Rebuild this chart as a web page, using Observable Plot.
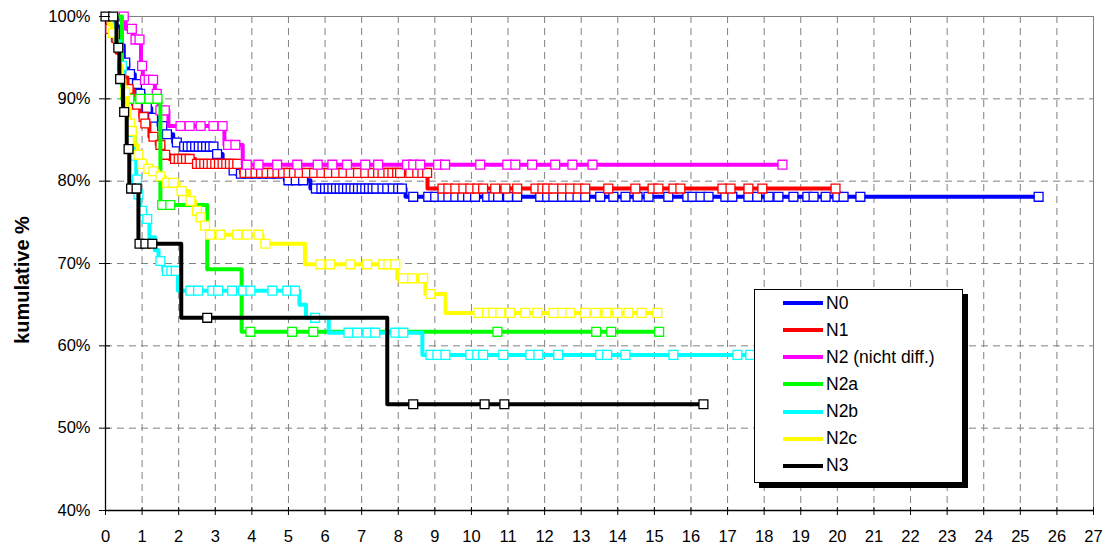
<!DOCTYPE html>
<html><head><meta charset="utf-8">
<script src="https://cdn.jsdelivr.net/npm/d3@7"></script>
<script src="https://cdn.jsdelivr.net/npm/@observablehq/plot@0.6"></script>
<style>
body{margin:0;background:#fff;font-family:"Liberation Sans",Arial,sans-serif;}
#wrap{position:relative;width:1109px;height:550px;}
#ylabel{position:absolute;left:22px;top:280px;transform:translate(-50%,-50%) rotate(-90deg);font-weight:bold;font-size:20px;white-space:nowrap;color:#000;}
#legend{position:absolute;left:754px;top:289px;width:207px;height:192px;border:1px solid #000;background:#fff;box-shadow:5px 5px 0 #000;}
.item{position:absolute;left:28px;height:20px;display:flex;align-items:center;font-size:17.5px;color:#000;}
.swatch{width:40px;height:4px;margin-right:3px;}
</style></head>
<body><div id="wrap"></div>
<script>
// ---- data ----
const seriesNames = ["N0", "N1", "N2 (nicht diff.)", "N2a", "N2b", "N2c", "N3"];
const xTicks = [0,1,2,3,4,5,6,7,8,9,10,11,12,13,14,15,16,17,18,19,20,21,22,23,24,25,26,27];
const yTicks = [40, 50, 60, 70, 80, 90, 100];

const n0Times = [0, 0.3, 0.42, 0.5, 0.62, 0.8, 0.92, 1.05, 1.25, 1.45, 1.62, 1.85, 2.05, 3.0, 3.2, 3.45, 3.58, 4.9, 5.6, 8.2];
const n0Surv  = [100, 98.8, 96.5, 94.4, 93.0, 91.8, 90.6, 88.9, 87.7, 86.7, 85.7, 84.7, 84.2, 83.3, 82.1, 81.3, 80.9, 80.1, 79.1, 78.1];
const n0End = 25.5;
const n0Censored = [0.54, 0.67, 0.86, 0.95, 1.13, 1.3, 1.55, 1.68, 1.95, 2.15, 2.25, 2.35, 2.45, 2.55, 2.65, 2.75, 2.85, 2.95, 3.05, 3.3, 3.5, 3.7, 3.9, 4.1, 4.3, 4.5, 4.7, 5.0, 5.2, 5.4, 5.75, 5.9, 6.0, 6.1, 6.2, 6.3, 6.4, 6.5, 6.6, 6.7, 6.8, 6.9, 7.0, 7.1, 7.2, 7.3, 7.4, 7.57, 7.7, 7.85, 8.0, 8.1, 8.41, 8.82, 9.01, 9.21, 9.37, 9.56, 9.75, 9.91, 10.1, 10.43, 10.6, 10.73, 11.0, 11.25, 11.88, 12.07, 12.24, 12.48, 12.7, 12.9, 13.11, 13.52, 13.88, 14.21, 14.54, 14.84, 15.38, 15.9, 16.04, 16.26, 16.48, 16.94, 17.13, 17.57, 17.81, 18.12, 18.39, 18.8, 19.18, 19.35, 19.68, 20.0, 20.17, 20.63, 25.5];

const n1Times = [0, 0.08, 0.2, 0.3, 0.4, 0.5, 0.6, 0.75, 0.95, 1.07, 1.2, 1.4, 1.58, 1.75, 2.45, 3.7, 8.8];
const n1Surv  = [100, 98.5, 97.0, 95.6, 94.1, 92.6, 91.2, 89.3, 87.8, 87.0, 85.4, 84.4, 83.2, 82.7, 82.1, 81.0, 79.1];
const n1End = 19.95;
const n1Censored = [0.13, 0.63, 0.86, 1.04, 1.09, 1.31, 1.5, 1.63, 1.9, 2.0, 2.1, 2.2, 2.3, 2.5, 2.6, 2.7, 2.8, 2.9, 3.0, 3.1, 3.2, 3.3, 3.4, 3.5, 3.6, 3.8, 3.95, 4.1, 4.25, 4.4, 4.55, 4.7, 4.85, 5.0, 5.15, 5.3, 5.5, 5.7, 5.9, 6.1, 6.3, 6.5, 6.7, 6.9, 7.1, 7.3, 7.45, 7.57, 7.73, 7.84, 7.97, 8.05, 8.33, 8.52, 8.66, 8.79, 9.21, 9.37, 9.56, 9.78, 9.97, 10.16, 10.32, 10.65, 10.93, 11.25, 11.75, 11.94, 12.07, 12.24, 12.48, 12.7, 12.92, 13.11, 13.74, 14.48, 14.95, 15.11, 15.52, 15.71, 16.86, 17.08, 17.57, 17.95, 19.95];

const n2Times = [0, 0.55, 0.75, 0.97, 1.02, 1.35, 1.45, 1.72, 3.25, 3.75];
const n2Surv  = [100, 98.5, 97.2, 94.0, 92.3, 90.6, 88.6, 86.7, 84.4, 82.0];
const n2End = 18.5;
const n2Censored = [0.5, 0.72, 0.82, 0.93, 1.0, 1.08, 1.18, 1.3, 1.4, 1.5, 1.62, 2.05, 2.3, 2.6, 2.95, 3.2, 3.35, 3.55, 3.86, 4.18, 4.69, 5.24, 5.8, 6.2, 6.6, 7.1, 7.45, 8.24, 8.41, 8.6, 9.09, 9.28, 10.24, 10.98, 11.2, 11.66, 12.29, 12.76, 13.31, 18.5];

const n2aTimes = [0, 0.45, 1.5, 2.78, 3.72];
const n2aSurv  = [100, 90.0, 77.1, 69.3, 61.7];
const n2aEnd = 15.13;
const n2aCensored = [0.65, 0.95, 1.2, 1.42, 1.55, 1.77, 3.96, 5.1, 5.68, 10.71, 13.41, 13.82, 15.13];

const n2bTimes = [0, 0.25, 0.4, 0.5, 0.6, 0.68, 0.78, 0.84, 0.88, 0.95, 1.08, 1.2, 1.35, 1.45, 1.58, 1.98, 5.3, 5.48, 6.1, 8.66];
const n2bSurv  = [100, 97.0, 94.0, 90.5, 87.5, 84.9, 83.1, 80.2, 78.4, 76.4, 75.4, 73.2, 71.6, 70.3, 69.1, 66.7, 65.0, 63.4, 61.6, 58.9];
const n2bEnd = 19.2;
const n2bCensored = [0.45, 0.72, 0.81, 0.86, 0.9, 1.0, 1.14, 1.5, 1.68, 1.8, 1.92, 2.32, 2.53, 2.92, 3.08, 3.46, 3.76, 3.96, 4.56, 4.97, 5.18, 5.73, 6.64, 6.88, 7.16, 7.37, 7.92, 8.14, 8.88, 9.07, 9.29, 9.97, 10.16, 10.32, 10.87, 11.61, 11.83, 12.37, 13.52, 13.71, 14.21, 15.52, 17.27, 17.62];

const n2cTimes = [0, 0.1, 0.18, 0.3, 0.4, 0.45, 0.52, 0.6, 0.65, 0.7, 0.8, 0.88, 0.97, 1.12, 1.28, 1.45, 1.62, 2.0, 2.28, 2.45, 2.56, 2.68, 2.8, 4.29, 5.45, 7.97, 8.74, 9.29];
const n2cSurv  = [100, 99.0, 98.0, 96.2, 94.0, 92.3, 90.8, 88.8, 87.0, 86.1, 84.4, 83.2, 82.1, 81.5, 81.2, 80.6, 79.8, 78.8, 77.6, 76.4, 75.6, 74.6, 73.5, 72.4, 69.9, 68.2, 66.3, 64.0];
const n2cEnd = 15.08;
const n2cCensored = [0.2, 0.54, 0.67, 0.72, 0.9, 1.0, 1.17, 1.31, 1.5, 1.68, 1.86, 2.08, 2.32, 2.5, 2.6, 2.72, 2.86, 3.14, 3.6, 3.87, 4.18, 4.37, 5.87, 6.14, 6.69, 7.15, 7.59, 7.73, 7.92, 8.14, 8.38, 8.68, 8.88, 10.19, 10.43, 10.6, 10.79, 11.06, 11.47, 11.8, 12.24, 12.48, 12.7, 13.11, 13.4, 13.69, 13.99, 14.29, 14.65, 15.08];

const n3Times = [0, 0.3, 0.38, 0.48, 0.58, 0.65, 0.9, 2.07, 7.7];
const n3Surv  = [100, 96.2, 92.4, 88.4, 83.9, 79.1, 72.4, 63.4, 52.9];
const n3End = 16.34;
const n3Censored = [0, 0.21, 0.35, 0.4, 0.51, 0.63, 0.7, 0.85, 0.93, 1.09, 1.28, 2.78, 8.41, 10.36, 10.9, 16.34];

// ---- styles ----
const seriesColors = ["#0000ff", "#ff0000", "#ff00ff", "#00ff00", "#00ffff", "#ffff00", "#000000"];

const series = [
  [n0Times, n0Surv, n0End, n0Censored],
  [n1Times, n1Surv, n1End, n1Censored],
  [n2Times, n2Surv, n2End, n2Censored],
  [n2aTimes, n2aSurv, n2aEnd, n2aCensored],
  [n2bTimes, n2bSurv, n2bEnd, n2bCensored],
  [n2cTimes, n2cSurv, n2cEnd, n2cCensored],
  [n3Times, n3Surv, n3End, n3Censored]
];

function stepRows(times, surv, end) {
  const rows = times.map((t, i) => ({t, s: surv[i]}));
  rows.push({t: end, s: surv[surv.length - 1]});
  return rows;
}
function censorRows(times, surv, cens) {
  return cens.map(c => {
    let v = surv[0];
    for (let i = 0; i < times.length; i++) if (times[i] <= c) v = surv[i];
    return {t: c, s: v};
  });
}

const gridStyle = {stroke: "#808080", strokeOpacity: 1, strokeWidth: 1, strokeDasharray: "7,5"};
const marks = [
  Plot.gridX(xTicks.slice(1, -1), gridStyle),
  Plot.gridY(yTicks.slice(1, -1), gridStyle),
  Plot.ruleY([100], {stroke: "#808080", strokeWidth: 1}),
  Plot.ruleX([27], {stroke: "#808080", strokeWidth: 1}),
  Plot.ruleX([0], {stroke: "#000", strokeWidth: 1.3}),
  Plot.ruleY([40], {stroke: "#000", strokeWidth: 1.3})
];
series.forEach(([times, surv, end, cens], k) => {
  const c = seriesColors[k];
  marks.push(Plot.line(stepRows(times, surv, end), {x: "t", y: "s", stroke: c, strokeWidth: 4, curve: "step-after"}));
  marks.push(Plot.dot(censorRows(times, surv, cens), {x: "t", y: "s", symbol: "square", r: 5, stroke: c, strokeWidth: 1.3, fill: "#fff"}));
});
marks.push(
  Plot.axisX(xTicks, {tickSize: 8, dy: -3, tickFormat: () => "", label: null}),
  Plot.axisX(xTicks, {tickSize: 0, tickPadding: 20, fontSize: 16.5, label: null}),
  Plot.axisY(yTicks, {tickSize: 11, dx: 5, tickFormat: () => "", label: null}),
  Plot.axisY(yTicks, {tickSize: 0, tickPadding: 15, fontSize: 16.5, tickFormat: d => d + "%", label: null})
);

const chart = Plot.plot({
  width: 1109,
  height: 550,
  marginLeft: 105,
  marginRight: 16,
  marginTop: 16,
  marginBottom: 40,
  style: {fontFamily: "'Liberation Sans', Arial, sans-serif", fontSize: "16.5px", color: "#000", background: "#fff"},
  x: {domain: [0, 27]},
  y: {domain: [40, 100]},
  marks
});

const wrap = document.getElementById("wrap");
wrap.appendChild(chart);

const yl = document.createElement("div");
yl.id = "ylabel";
yl.textContent = "kumulative %";
wrap.appendChild(yl);

const legend = document.createElement("div");
legend.id = "legend";
seriesNames.forEach((name, i) => {
  const item = document.createElement("div");
  item.className = "item";
  item.style.top = (3 + i * 27.15) + "px";
  const sw = document.createElement("span");
  sw.className = "swatch";
  sw.style.background = seriesColors[i];
  const tx = document.createElement("span");
  tx.textContent = name;
  item.appendChild(sw);
  item.appendChild(tx);
  legend.appendChild(item);
});
wrap.appendChild(legend);
</script></body></html>
